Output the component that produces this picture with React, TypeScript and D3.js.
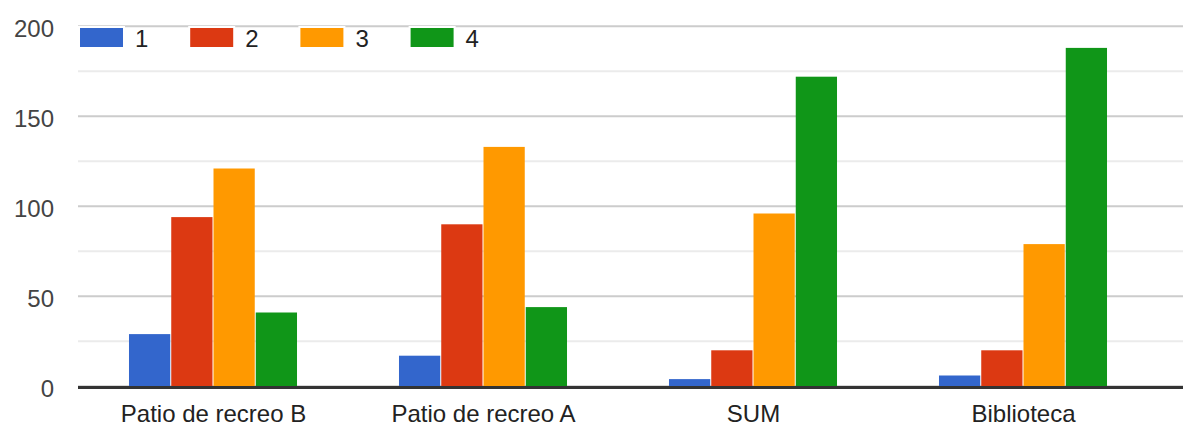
import React from "react";
import * as d3 from "d3";

const categories = ["Patio de recreo B", "Patio de recreo A", "SUM", "Biblioteca"];
const seriesNames = ["1", "2", "3", "4"];
const series1 = [29, 17, 4, 6];
const series2 = [94, 90, 20, 20];
const series3 = [121, 133, 96, 79];
const series4 = [41, 44, 172, 188];
const seriesColors = ["#3366cc", "#dc3912", "#ff9900", "#109618"];
const majorTicks = [0, 50, 100, 150, 200];
const minorTicks = [25, 75, 125, 175];

const W = 1183;
const H = 426;
const FONT = "Arial, 'Liberation Sans', sans-serif";

export default function App() {
  const values = [series1, series2, series3, series4];
  const y = d3.scaleLinear().domain([0, 200]).range([386.3, 26.3]);
  const x0 = d3
    .scaleBand<string>()
    .domain(categories)
    .range([78.5, 1158.5])
    .paddingInner(0.374)
    .paddingOuter(0.187);
  const x1 = d3.scaleBand<string>().domain(seriesNames).range([0, x0.bandwidth()]);

  return (
    <svg
      width={W}
      height={H}
      style={{ position: "absolute", left: 0, top: 0, background: "#fff" }}
      fontFamily={FONT}
    >
      <rect x={0} y={0} width={W} height={H} fill="#fff" />
      {minorTicks.map((t) => (
        <line key={"m" + t} x1={78} x2={W} y1={y(t)} y2={y(t)} stroke="#ebebeb" strokeWidth={2} />
      ))}
      {majorTicks.map((t) => (
        <line key={"M" + t} x1={78} x2={W} y1={y(t)} y2={y(t)} stroke="#cccccc" strokeWidth={2} />
      ))}
      {majorTicks.map((t) => (
        <text key={"t" + t} x={54} y={y(t) + 10.4} textAnchor="end" fontSize={24} fill="#444">
          {t}
        </text>
      ))}
      {categories.map((c, ci) =>
        seriesNames.map((s, si) => {
          const v = values[si][ci];
          return (
            <rect
              key={c + s}
              x={(x0(c) as number) + (x1(s) as number)}
              y={y(v)}
              width={x1.bandwidth() - 1}
              height={y(0) - y(v)}
              fill={seriesColors[si]}
            />
          );
        })
      )}
      <line x1={78} x2={W} y1={387.5} y2={387.5} stroke="#333" strokeWidth={3} />
      {categories.map((c) => (
        <text
          key={"c" + c}
          x={(x0(c) as number) + x0.bandwidth() / 2}
          y={421.5}
          textAnchor="middle"
          fontSize={24}
          fill="#222"
        >
          {c}
        </text>
      ))}
      {seriesNames.map((s, i) => {
        const lx = 79 + i * 110.2;
        return (
          <g key={"l" + s}>
            <rect x={lx} y={27} width={45} height={21} fill={seriesColors[i]} stroke="#fff" strokeWidth={2} />
            <text x={lx + 56} y={46.7} fontSize={24} fill="#222">
              {s}
            </text>
          </g>
        );
      })}
    </svg>
  );
}
